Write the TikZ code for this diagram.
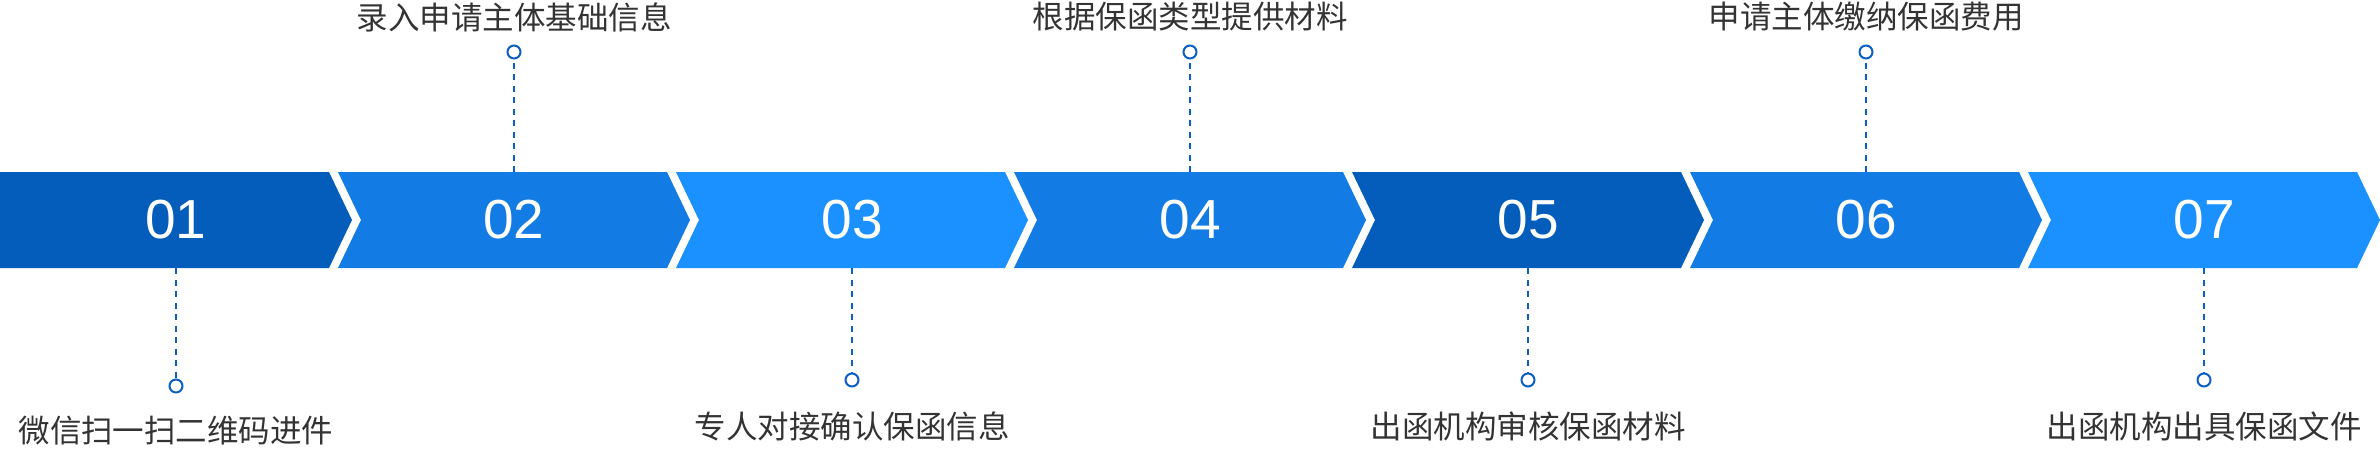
\documentclass[tikz,border=0pt]{standalone}
\usepackage{fontspec}
\usepackage{xcolor}
\usepackage{tikz}
\newfontfamily\cjkfont{Noto Sans CJK SC}
\newfontfamily\numfont{Liberation Sans}
\definecolor{darkblue}{HTML}{045DBA}
\definecolor{midblue}{HTML}{127BE4}
\definecolor{lightblue}{HTML}{1B90FF}
\definecolor{lineblue}{HTML}{0B5FC0}
\definecolor{textgray}{HTML}{333333}
\tikzset{
  guide/.style={
    draw = lineblue,
    line width = 2pt,
    dash pattern = on 6pt off 5.5pt
  },
  dot/.style={
    draw = lineblue,
    fill = white,
    circle,
    line width = 2pt,
    minimum size = 13pt,
    inner sep = 0pt
  }
}

\begin{document}
\begin{tikzpicture}[x=1pt, y=-1pt, every node/.style={inner sep=0pt, outer sep=0pt}]
\newcommand\BarTop{172}
\newcommand\Chev[2]{\fill[#2] (#1,\BarTop) -- ++(329,0) -- ++(23,48) -- ++(-23,48) -- ++(-329,0) -- ++(23,-48) -- cycle;}
\useasboundingbox (0,0) rectangle (2380,448);

% bar
\fill[darkblue] (0,\BarTop) -- (329,\BarTop) -- (352,220) -- (329,268) -- (0,268) -- cycle;
\Chev{338}{midblue}
\Chev{676}{lightblue}
\Chev{1014}{midblue}
\Chev{1352}{darkblue}
\Chev{1690}{midblue}
\Chev{2028}{lightblue}

\node[text=white, font=\numfont\fontsize{55}{60}\selectfont] (n1) at (176,220) {01};
\node[text=white, font=\numfont\fontsize{55}{60}\selectfont] (n2) at (514,220) {02};
\node[text=white, font=\numfont\fontsize{55}{60}\selectfont] (n3) at (852,220) {03};
\node[text=white, font=\numfont\fontsize{55}{60}\selectfont] (n4) at (1190,220) {04};
\node[text=white, font=\numfont\fontsize{55}{60}\selectfont] (n5) at (1528,220) {05};
\node[text=white, font=\numfont\fontsize{55}{60}\selectfont] (n6) at (1866,220) {06};
\node[text=white, font=\numfont\fontsize{55}{60}\selectfont] (n7) at (2204,220) {07};

\coordinate (b1) at (176,268);
\coordinate (b2) at (514,\BarTop);
\coordinate (b3) at (852,268);
\coordinate (b4) at (1190,\BarTop);
\coordinate (b5) at (1528,268);
\coordinate (b6) at (1866,\BarTop);
\coordinate (b7) at (2204,268);

\node[dot] (c1) at (176,386) {};
\node[dot] (c2) at (514,52) {};
\node[dot] (c3) at (852,380) {};
\node[dot] (c4) at (1190,52) {};
\node[dot] (c5) at (1528,380) {};
\node[dot] (c6) at (1866,52) {};
\node[dot] (c7) at (2204,380) {};

\path[guide] (b1) edge (c1)
             (b2) edge (c2)
             (b3) edge (c3)
             (b4) edge (c4)
             (b5) edge (c5)
             (b6) edge (c6)
             (b7) edge (c7);

% step texts
\node[text=textgray, font=\cjkfont\fontsize{31.5}{36}\selectfont] (t1) at (176,431) {微信扫一扫二维码进件};
\node[text=textgray, font=\cjkfont\fontsize{31.5}{36}\selectfont] (t2) at (514,17) {录入申请主体基础信息};
\node[text=textgray, font=\cjkfont\fontsize{31.5}{36}\selectfont] (t3) at (852,426) {专人对接确认保函信息};
\node[text=textgray, font=\cjkfont\fontsize{31.5}{36}\selectfont] (t4) at (1190,17) {根据保函类型提供材料};
\node[text=textgray, font=\cjkfont\fontsize{31.5}{36}\selectfont] (t5) at (1528,426) {出函机构审核保函材料};
\node[text=textgray, font=\cjkfont\fontsize{31.5}{36}\selectfont] (t6) at (1866,17) {申请主体缴纳保函费用};
\node[text=textgray, font=\cjkfont\fontsize{31.5}{36}\selectfont] (t7) at (2204,426) {出函机构出具保函文件};
\end{tikzpicture}
\end{document}
